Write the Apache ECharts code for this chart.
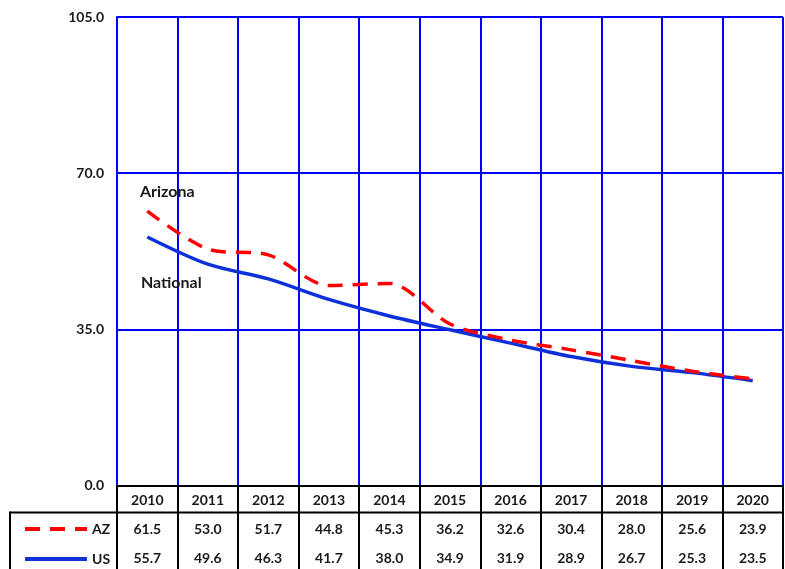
<!DOCTYPE html>
<html><head><meta charset="utf-8">
<script src="https://cdn.jsdelivr.net/npm/echarts@6/dist/echarts.min.js"></script>
<style>html,body{margin:0;padding:0;background:#fff}#c{width:785px;height:569px}</style>
</head><body><div id="c"></div>
<script>
const years = ['2010','2011','2012','2013','2014','2015','2016','2017','2018','2019','2020'];
const azValues = [61.5, 53.0, 51.7, 44.8, 45.3, 36.2, 32.6, 30.4, 28.0, 25.6, 23.9];
const usValues = [55.7, 49.6, 46.3, 41.7, 38.0, 34.9, 31.9, 28.9, 26.7, 25.3, 23.5];
const yTicks = [0, 35, 70, 105];

const FONT = 'Lato';
const chart = echarts.init(document.getElementById('c'));
const bold = {fontFamily: FONT, fontWeight: 'bold', fontSize: 14, color: '#1a1a1a'};

function withFirstLabel(arr, text, offset, pos) {
  return arr.map((v, i) => i === 0 ? {value: v, label: {show: true, formatter: text, position: pos, offset: offset, ...bold, fontSize: 16}} : v);
}

const dashIcon = 'path://M0,0h15v4h-15z M25,0h15v4h-15z M50,0h12v4h-12z';
const solidIcon = 'path://M0,0h62v4h-62z';

chart.setOption({
  animation: false,
  grid: {left: 117, right: 2, top: 17, bottom: 83.5, containLabel: false},
  legend: [
    {left: 20, top: 517, itemWidth: 62, itemHeight: 4, itemGap: 10, textStyle: bold, selectedMode: false,
     data: [{name: 'AZ', icon: dashIcon, itemStyle: {color: '#ff0000'}}]},
    {left: 20, top: 547, itemWidth: 62, itemHeight: 4, itemGap: 10, textStyle: bold, selectedMode: false,
     data: [{name: 'US', icon: solidIcon, itemStyle: {color: '#0d30d8'}}]}
  ],
  xAxis: [
    {
      type: 'category', data: years, boundaryGap: true, position: 'bottom',
      axisLine: {show: true, lineStyle: {color: '#000', width: 2}},
      axisTick: {show: true, interval: 0, length: 85, lineStyle: {color: '#000', width: 2}},
      axisLabel: {interval: 0, margin: 8, ...bold},
      splitLine: {show: true, interval: 0, lineStyle: {color: '#0000ff', width: 2}}
    },
    {
      type: 'category', data: years, boundaryGap: true, position: 'bottom', offset: 29,
      axisLine: {show: false}, axisTick: {show: false}, splitLine: {show: false},
      axisLabel: {interval: 0, margin: 8, ...bold, formatter: (v, i) => azValues[i].toFixed(1)}
    },
    {
      type: 'category', data: years, boundaryGap: true, position: 'bottom', offset: 58,
      axisLine: {show: false}, axisTick: {show: false}, splitLine: {show: false},
      axisLabel: {interval: 0, margin: 8, ...bold, formatter: (v, i) => usValues[i].toFixed(1)}
    }
  ],
  yAxis: {
    type: 'value', min: yTicks[0], max: yTicks[yTicks.length - 1], interval: 35,
    axisLine: {show: true, lineStyle: {color: '#0000ff', width: 2}},
    axisTick: {show: false},
    axisLabel: {margin: 13, ...bold, formatter: v => v.toFixed(1)},
    splitLine: {show: true, lineStyle: {color: '#0000ff', width: 2}}
  },
  graphic: [
    {type: 'line', shape: {x1: 10, y1: 512.5, x2: 783, y2: 512.5}, style: {stroke: '#000', lineWidth: 2}},
    {type: 'line', shape: {x1: 10, y1: 511.5, x2: 10, y2: 569}, style: {stroke: '#000', lineWidth: 2}}
  ],
  series: [
    {
      name: 'AZ', type: 'line', xAxisIndex: 0, smooth: 0.3, symbol: 'circle', symbolSize: 0.01, showSymbol: true,
      data: withFirstLabel(azValues, 'Arizona', [20, -6], 'top'),
      lineStyle: {color: '#ff0000', width: 3.5, type: [15, 10]},
      itemStyle: {color: '#ff0000'}, z: 3
    },
    {
      name: 'US', type: 'line', xAxisIndex: 0, smooth: 0.3, symbol: 'circle', symbolSize: 0.01, showSymbol: true,
      data: withFirstLabel(usValues, 'National', [24, 33], 'bottom'),
      lineStyle: {color: '#0d30d8', width: 3.5},
      itemStyle: {color: '#0d30d8'}, z: 2
    }
  ]
});
</script></body></html>
